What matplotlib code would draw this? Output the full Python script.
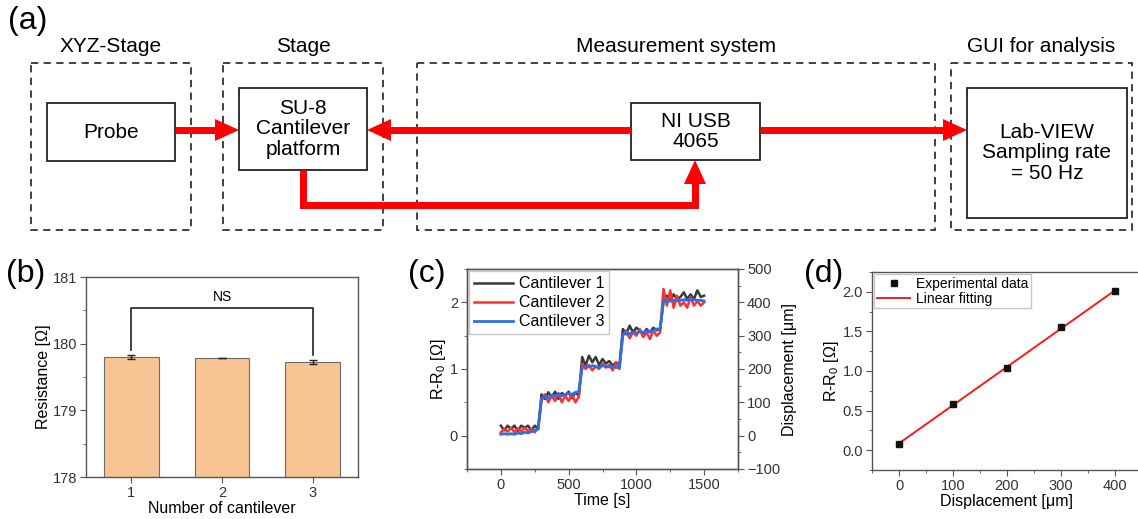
import numpy as np
import matplotlib
matplotlib.use("Agg")
import matplotlib.pyplot as plt
from matplotlib.patches import Rectangle, Polygon
from matplotlib.ticker import MultipleLocator

plt.rcParams['font.family'] = ['Liberation Sans', 'DejaVu Sans']
plt.rcParams['mathtext.default'] = 'regular'

# (b) resistance of each cantilever
cantilevers = [1, 2, 3]
resistance = [179.80, 179.785, 179.72]
resistance_err = [0.035, 0.006, 0.03]

# (c) step response, sampled every 25 s
time_s = np.arange(0, 1525, 25)
cant1 = [0.15, 0.08, 0.15, 0.10, 0.15, 0.07, 0.15, 0.12, 0.15, 0.08, 0.15, 0.10,
         0.62, 0.55, 0.65, 0.58, 0.66, 0.55, 0.64, 0.60, 0.66, 0.56, 0.65, 0.60,
         1.18, 1.05, 1.20, 1.10, 1.18, 1.06, 1.15, 1.08, 1.12, 1.05, 1.10, 1.05,
         1.60, 1.52, 1.65, 1.55, 1.62, 1.58, 1.52, 1.60, 1.55, 1.62, 1.58, 1.60,
         2.02, 2.10, 2.02, 2.12, 2.05, 2.08, 2.15, 2.05, 2.12, 2.05, 2.18, 2.08, 2.10]
cant2 = [0.05, 0.10, 0.06, 0.12, 0.05, 0.11, 0.06, 0.12, 0.07, 0.10, 0.05, 0.12,
         0.52, 0.62, 0.50, 0.60, 0.52, 0.64, 0.50, 0.60, 0.52, 0.62, 0.50, 0.58,
         1.08, 1.00, 1.06, 0.98, 1.04, 1.00, 1.08, 1.02, 1.06, 0.98, 1.10, 1.00,
         1.50, 1.58, 1.46, 1.55, 1.50, 1.60, 1.48, 1.55, 1.45, 1.58, 1.50, 1.55,
         2.20, 1.95, 2.18, 1.92, 2.10, 1.95, 2.00, 1.92, 2.08, 1.95, 2.02, 1.95, 2.00]
cant3 = [0.02, 0.03, 0.02, 0.03, 0.02, 0.04, 0.03, 0.05, 0.04, 0.06, 0.08, 0.10,
         0.56, 0.58, 0.57, 0.60, 0.59, 0.62, 0.60, 0.62, 0.63, 0.62, 0.65, 0.66,
         1.02, 1.04, 1.03, 1.05, 1.04, 1.02, 1.05, 1.04, 1.03, 1.04, 1.02, 1.03,
         1.52, 1.54, 1.53, 1.55, 1.54, 1.56, 1.55, 1.57, 1.56, 1.58, 1.60, 1.60,
         2.01, 2.02, 2.02, 2.03, 2.02, 2.03, 2.04, 2.03, 2.05, 2.04, 2.03, 2.03, 2.02]

# (d) calibration
displacement = [0, 100, 200, 300, 400]
delta_r = [0.08, 0.58, 1.04, 1.55, 2.01]

fig = plt.figure(figsize=(11.38, 5.19), dpi=100)

# ---- (a) block diagram, drawn in pixel coordinates ----
ax0 = fig.add_axes([0, 0, 1, 1])
ax0.set_xlim(0, 1138)
ax0.set_ylim(519, 0)
ax0.axis('off')

RED = '#ff0000'


def dashed_box(x0, y0, x1, y1, title):
    ax0.add_patch(Rectangle((x0, y0), x1 - x0, y1 - y0, fill=False,
                            ec='#333333', lw=1.3, ls=(0, (4, 3))))
    ax0.text((x0 + x1) / 2, 47, title, ha='center', va='center', fontsize=15)


def solid_box(x0, y0, x1, y1, label):
    ax0.add_patch(Rectangle((x0, y0), x1 - x0, y1 - y0, fill=True, fc='white',
                            ec='#222222', lw=1.3, zorder=3))
    ax0.text((x0 + x1) / 2, (y0 + y1) / 2, label, ha='center', va='center',
             fontsize=15, linespacing=1.1, zorder=4)


def head(tip, direction, length=24, half=11):
    x, y = tip
    if direction == 'right':
        pts = [(x, y), (x - length, y - half), (x - length, y + half)]
    elif direction == 'left':
        pts = [(x, y), (x + length, y - half), (x + length, y + half)]
    else:  # up
        pts = [(x, y), (x - half, y + length), (x + half, y + length)]
    ax0.add_patch(Polygon(pts, closed=True, fc=RED, ec='none', zorder=5))


dashed_box(31, 63, 191, 230, 'XYZ-Stage')
dashed_box(223, 63, 383, 230, 'Stage')
dashed_box(417, 63, 935, 230, 'Measurement system')
dashed_box(951, 63, 1132, 230, 'GUI for analysis')

solid_box(47, 103, 175, 161, 'Probe')
solid_box(239, 88, 367, 170, 'SU-8\nCantilever\nplatform')
solid_box(631, 103, 760, 160, 'NI USB\n4065')
solid_box(967, 88, 1127, 218, 'Lab-VIEW\nSampling rate\n= 50 Hz')

ax0.plot([175, 217], [130, 130], color=RED, lw=5, solid_capstyle='butt', zorder=4)
head((239, 130), 'right')
ax0.plot([631, 389], [130, 130], color=RED, lw=5, solid_capstyle='butt', zorder=4)
head((367, 130), 'left')
ax0.plot([760, 945], [130, 130], color=RED, lw=5, solid_capstyle='butt', zorder=4)
head((967, 130), 'right')
ax0.plot([303, 303, 695, 695], [170, 205, 205, 182], color=RED, lw=5,
         solid_capstyle='butt', solid_joinstyle='miter', zorder=4)
head((695, 160), 'up')

ax0.text(8, 21, '(a)', fontsize=23, va='center', ha='left')
ax0.text(6, 274, '(b)', fontsize=23, va='center', ha='left')
ax0.text(408, 274, '(c)', fontsize=23, va='center', ha='left')
ax0.text(804, 274, '(d)', fontsize=23, va='center', ha='left')


def style(ax):
    for s in ax.spines.values():
        s.set_color('#555555')
        s.set_linewidth(1.0)
    ax.tick_params(which='both', direction='out', colors='#555555',
                   labelcolor='#333333', labelsize=10.5, pad=2.5)
    ax.tick_params(which='major', length=4)
    ax.tick_params(which='minor', length=2.5)


# ---- (b) ----
axb = fig.add_axes([86 / 1138, 1 - 477 / 519, 272 / 1138, 200 / 519])
axb.bar(cantilevers, resistance, width=0.6, color='#f9c494', edgecolor='#6b6b6b',
        linewidth=0.8, yerr=resistance_err, capsize=3,
        error_kw=dict(ecolor='#222222', elinewidth=1, capthick=1))
axb.plot([1, 1, 3, 3], [179.9, 180.54, 180.54, 179.83], color='#222222', lw=1.2)
axb.text(2, 180.6, 'NS', ha='center', va='bottom', fontsize=10)
axb.set_xlim(0.5, 3.5)
axb.set_ylim(178, 181)
axb.set_xticks(cantilevers)
axb.yaxis.set_major_locator(MultipleLocator(1))
axb.yaxis.set_minor_locator(MultipleLocator(0.5))
axb.set_xlabel('Number of cantilever', fontsize=11.5, labelpad=1)
axb.set_ylabel('Resistance [Ω]', fontsize=11.5, labelpad=1)
style(axb)

# ---- (c) ----
axc = fig.add_axes([467 / 1138, 1 - 469 / 519, 271 / 1138, 200 / 519])
axc.plot(time_s, cant1, color='#3a3a3a', lw=1.8, label='Cantilever 1')
axc.plot(time_s, cant2, color='#ff3030', lw=1.8, label='Cantilever 2')
axc.plot(time_s, cant3, color='#2a70e8', lw=2.0, label='Cantilever 3')
axc.set_xlim(-250, 1750)
axc.set_ylim(-0.5, 2.5)
axc.xaxis.set_major_locator(MultipleLocator(500))
axc.xaxis.set_minor_locator(MultipleLocator(250))
axc.yaxis.set_major_locator(MultipleLocator(1))
axc.yaxis.set_minor_locator(MultipleLocator(0.5))
axc.set_xlabel('Time [s]', fontsize=11.5, labelpad=1)
axc.set_ylabel('R-R$_0$ [Ω]', fontsize=11.5, labelpad=1)
leg = axc.legend(loc='upper left', fontsize=11.5, handlelength=2.4, borderaxespad=0.15,
                 labelspacing=0.25, borderpad=0.3, handletextpad=0.4, fancybox=False)
leg.get_frame().set_edgecolor('#bbbbbb')
style(axc)
axc2 = axc.twinx()
axc2.set_ylim(-100, 500)
axc2.yaxis.set_major_locator(MultipleLocator(100))
axc2.yaxis.set_minor_locator(MultipleLocator(50))
axc2.set_ylabel('Displacement [μm]', fontsize=11.5, labelpad=1)
style(axc2)

# ---- (d) ----
axd = fig.add_axes([872 / 1138, 1 - 470 / 519, 270 / 1138, 198 / 519])
slope, intercept = np.polyfit(displacement, delta_r, 1)
fit_x = np.array([displacement[0], displacement[-1]])
axd.plot(displacement, delta_r, 's', color='#111111', ms=4, label='Experimental data', zorder=3)
axd.plot(fit_x, slope * fit_x + intercept, color='#ff1a1a', lw=1.4, label='Linear fitting')
axd.set_xlim(-50, 450)
axd.set_ylim(-0.25, 2.25)
axd.xaxis.set_major_locator(MultipleLocator(100))
axd.xaxis.set_minor_locator(MultipleLocator(50))
axd.yaxis.set_major_locator(MultipleLocator(0.5))
axd.yaxis.set_minor_locator(MultipleLocator(0.25))
axd.set_xlabel('Displacement [μm]', fontsize=11.5, labelpad=1)
axd.set_ylabel('R-R$_0$ [Ω]', fontsize=11.5, labelpad=1)
legd = axd.legend(loc='upper left', fontsize=10, handlelength=2.4, borderaxespad=0.15,
                  labelspacing=0.05, borderpad=0.2, handletextpad=0.4, fancybox=False)
legd.get_frame().set_edgecolor('#bbbbbb')
style(axd)

fig.savefig('out.png', dpi=100)
